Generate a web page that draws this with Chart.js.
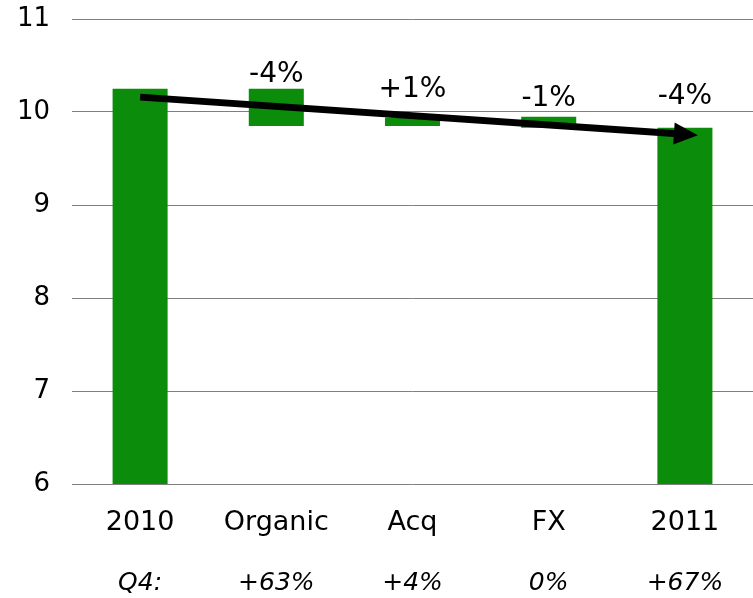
<!DOCTYPE html>
<html>
<head>
<meta charset="utf-8">
<script src="https://cdn.jsdelivr.net/npm/chart.js@4/dist/chart.umd.min.js"></script>
<style>
  html, body { margin: 0; padding: 0; background: #fff; }
  #wrap { width: 753px; height: 598px; }
</style>
</head>
<body>
<div id="wrap"><canvas id="c" width="753" height="598"></canvas></div>
<script>
// categories + waterfall (low, high) per bar
const categories = ["2010", "Organic", "Acq", "FX", "2011"]
const barLow  = [6,     9.85,  9.85, 9.83, 6]
const barHigh = [10.25, 10.25, 9.94, 9.95, 9.83]
const pctLabels = ["", "-4%", "+1%", "-1%", "-4%"]
const q4Labels = ["Q4:", "+63%", "+4%", "0%", "+67%"]
// trend arrow: from 2010 to 2011
const trend = [10.16, null, null, null, 9.76]

const FONT = "'DejaVu Sans', Verdana, sans-serif"
const HEAD = 11

// подписи над столбиками (над столбиком или над стрелкой, что выше)
const pctPlugin = {
  id: "pct",
  afterDatasetsDraw(chart) {
    const { ctx } = chart
    const bars = chart.getDatasetMeta(0).data
    const pts = chart.getDatasetMeta(1).data
    const a = pts[0], b = pts[pts.length - 1]
    ctx.save()
    ctx.font = "28px " + FONT
    ctx.fillStyle = "#000"
    ctx.textAlign = "center"
    ctx.textBaseline = "alphabetic"
    bars.forEach((bar, i) => {
      if (!pctLabels[i]) return
      const t = (bar.x - a.x) / (b.x - a.x)
      let ay = a.y + t * (b.y - a.y) - 12
      if (i === bars.length - 1) ay -= HEAD
      const top = Math.min(bar.y, bar.base, ay)
      ctx.fillText(pctLabels[i], bar.x, top - 7)
    })
    ctx.restore()
  }
}

// наконечник стрелки
const arrowPlugin = {
  id: "arrowHead",
  afterDatasetsDraw(chart) {
    const pts = chart.getDatasetMeta(1).data
    const a = pts[0], b = pts[pts.length - 1]
    const ang = Math.atan2(b.y - a.y, b.x - a.x)
    const { ctx } = chart
    ctx.save()
    ctx.translate(b.x, b.y)
    ctx.rotate(ang)
    ctx.fillStyle = "#000"
    ctx.beginPath()
    ctx.moveTo(13, 0)
    ctx.lineTo(-11, -HEAD)
    ctx.lineTo(-11, HEAD)
    ctx.closePath()
    ctx.fill()
    ctx.restore()
  }
}

new Chart(document.getElementById("c").getContext("2d"), {
  data: {
    labels: categories,
    datasets: [
      { type: "bar", data: categories.map((c, i) => [barLow[i], barHigh[i]]),
        backgroundColor: "#0b8c0b", borderWidth: 0,
        barPercentage: 0.8, categoryPercentage: 0.505, order: 2 },
      { type: "line", data: trend, spanGaps: true,
        borderColor: "#000", borderWidth: 7, pointRadius: 0,
        borderCapStyle: "butt", order: 1 }
    ]
  },
  options: {
    responsive: false,
    animation: false,
    layout: { padding: { top: 19, right: 0, bottom: 0, left: 0 } },
    plugins: { legend: { display: false }, tooltip: { enabled: false } },
    scales: {
      y: {
        min: 6, max: 11,
        ticks: { stepSize: 1, color: "#000", font: { family: FONT, size: 26 }, padding: 22 },
        grid: { color: "#7f7f7f", lineWidth: 1, drawTicks: false },
        border: { display: false },
        afterFit(s) { s.width = 72; s.paddingTop = 0; s.paddingBottom = 0 }
      },
      x: {
        ticks: { color: "#000", font: { family: FONT, size: 27 }, padding: 23, maxRotation: 0 },
        grid: { display: false, drawTicks: false },
        border: { display: false },
        afterFit(s) { s.height = 55; s.paddingLeft = 0; s.paddingRight = 0 }
      },
      x2: {
        type: "category", labels: q4Labels, position: "bottom", offset: true,
        ticks: { color: "#000", font: { family: FONT, size: 25, style: "italic" }, padding: 29, maxRotation: 0 },
        grid: { display: false, drawTicks: false },
        border: { display: false },
        afterFit(s) { s.height = 59; s.paddingLeft = 0; s.paddingRight = 0 }
      }
    }
  },
  plugins: [pctPlugin, arrowPlugin]
})
</script>
</body>
</html>
